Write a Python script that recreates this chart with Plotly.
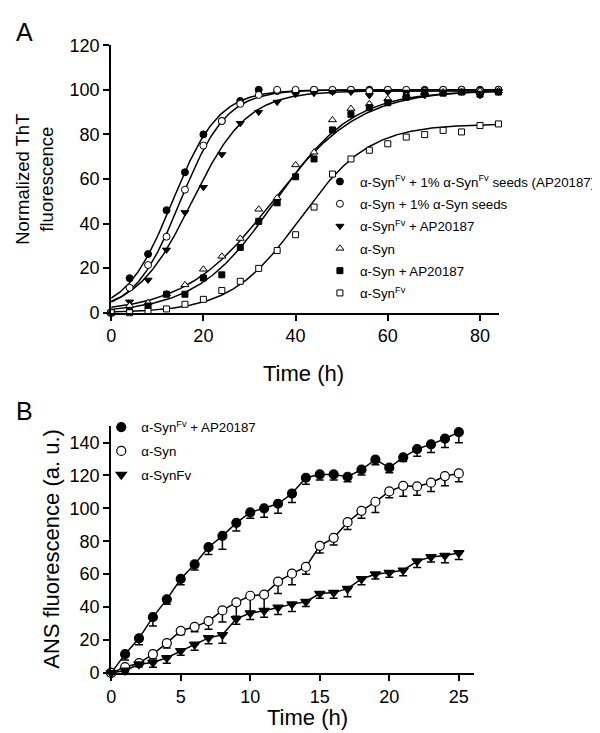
import numpy as np
import plotly.graph_objects as go

# ---------------- Panel A: ThT kinetics ----------------
time_a = [0, 4, 8, 12, 16, 20, 24, 28, 32, 36, 40, 44, 48, 52, 56, 60, 64, 68, 72, 76, 80, 84]
syn_fv_seeds_ap = [0, 15.5, 26.3, 46, 63, 80, 86, 95, 100, 99.5, 99.5, 100, 99.5, 100, 100, 100, 99.5, 100, 100, 100, 100, 100]
syn_seeds = [0, 11.2, 21.4, 34.1, 55.2, 75, 86, 93.7, 97.7, 100, 100, 100, 100, 100, 99.5, 100, 100, 99.5, 100, 100, 99.5, 100]
syn_fv_ap = [0, 4.9, 14.7, 28.2, 45, 56.3, 71, 85, 90, 94.5, 98, 98.5, 99, 99, 97.5, 99, 99, 97.5, 99, 99, 97.5, 99]
syn_wt = [0, 3.2, 4.5, 8.5, 12.5, 19.5, 25.3, 33.3, 46.4, 51.5, 66.3, 72, 86.5, 91.6, 93.7, 96, 97.5, 98.5, 99, 99, 99.5, 99.5]
syn_ap = [0, 0.5, 3.0, 8.3, 8.3, 15.6, 17, 29.3, 41, 49.3, 61, 69, 82, 89, 92, 94.2, 96.7, 99, 98.5, 99, 98, 99]
syn_fv = [0, 0, 0.6, 1.7, 3.8, 6, 10, 14.1, 19.9, 27.9, 35, 47.4, 62.2, 69, 72.9, 75.8, 78.8, 79.9, 81.8, 81.1, 84, 84.7]

labels_a = [
    "α-Syn<sup>Fv</sup> + 1% α-Syn<sup>Fv</sup> seeds (AP20187)",
    "α-Syn + 1% α-Syn seeds",
    "α-Syn<sup>Fv</sup> + AP20187",
    "α-Syn",
    "α-Syn + AP20187",
    "α-Syn<sup>Fv</sup>",
]
# sigmoidal fit parameters (plateau, midpoint, slope factor)
fit_top = [100, 100, 99.5, 100, 99.5, 84.7]
fit_t50 = [13.3, 15, 17.5, 35, 35.5, 41]
fit_k = [5, 5, 6, 9.5, 8.5, 7.5]

# ---------------- Panel B: ANS kinetics ----------------
time_b = list(range(26))
ans_fv_ap = [0, 11.4, 21, 33.9, 44.7, 57.1, 66, 76.4, 83.3, 91.2, 97.5, 100, 102.8, 109, 118.6, 120.6, 120.6, 119.2, 123.5, 129.6, 124.7, 131, 136, 138.9, 142.3, 146.3]
ans_fv_ap_err = [0, 3.6, 3.9, 5.4, 3, 3.6, 3.4, 4.5, 8.1, 4.9, 3.5, 5.4, 5.8, 5.5, 4, 3.4, 3.4, 3, 3.3, 3.1, 3, 2.6, 4.4, 5, 5.3, 6.4]
ans_wt = [0, 3.5, 6, 11.4, 18.1, 25.6, 28, 31.5, 38, 42.9, 46.9, 47.6, 55.5, 60.3, 64.4, 77.2, 82.1, 91.6, 98.5, 104, 110.3, 113.7, 113.3, 115.6, 119.6, 121.2]
ans_wt_err = [0, 1.5, 2, 3, 3, 2.4, 3, 5, 7, 8.4, 10, 10, 7.3, 6.8, 4.4, 4.3, 4.3, 4.5, 4.5, 6.5, 3.9, 6.4, 5.4, 5.3, 5.9, 5]
ans_fv = [0, 1.5, 5.3, 6.3, 9.2, 13.4, 17.3, 21.3, 23.2, 32.9, 36.4, 37.8, 39.8, 41.8, 43.3, 48.2, 48.8, 51.2, 57.1, 60, 61, 62.4, 67.9, 70.5, 71.3, 72.9]
ans_fv_err = [0, 1, 1.5, 2.8, 3.3, 2.6, 3.5, 3.6, 5.1, 3.4, 3.9, 3.9, 4.3, 4.5, 2.9, 2.9, 3.5, 4.9, 3.6, 2.9, 2.9, 3.3, 3.9, 3.1, 4.3, 4]
labels_b = ["α-Syn<sup>Fv</sup> + AP20187", "α-Syn", "α-SynFv"]

FONT = "Liberation Sans, Arial, sans-serif"
W, H = 600, 733


def fx(px):
    return px / W


def fy(py):
    return 1 - py / H


fig = go.Figure()

series_a = [syn_fv_seeds_ap, syn_seeds, syn_fv_ap, syn_wt, syn_ap, syn_fv]
symbols_a = ["circle", "circle", "triangle-down", "triangle-up", "square", "square"]
fills_a = ["black", "white", "black", "white", "black", "white"]
sizes_a = [7, 7, 7, 7, 6, 6]

t_fit = np.linspace(0, 84, 400)
for i in range(6):
    y_fit = fit_top[i] / (1 + np.exp((fit_t50[i] - t_fit) / fit_k[i]))
    fig.add_trace(go.Scatter(x=t_fit, y=y_fit, mode="lines", line=dict(color="black", width=1.5),
                             showlegend=False, hoverinfo="skip", xaxis="x", yaxis="y"))
for i in range(6):
    fig.add_trace(go.Scatter(
        x=time_a, y=series_a[i], mode="markers", name=labels_a[i], legendgroup="a%d" % i,
        marker=dict(symbol=symbols_a[i], color=fills_a[i], size=sizes_a[i],
                    line=dict(color="black", width=1)),
        cliponaxis=False, xaxis="x", yaxis="y", legend="legend"))

series_b = [ans_fv_ap, ans_wt, ans_fv]
errs_b = [ans_fv_ap_err, ans_wt_err, ans_fv_err]
symbols_b = ["circle", "circle", "triangle-down"]
fills_b = ["black", "white", "black"]
for i in range(3):
    fig.add_trace(go.Scatter(x=time_b, y=series_b[i], mode="lines", line=dict(color="black", width=1.5),
                             showlegend=False, hoverinfo="skip", xaxis="x2", yaxis="y2"))
for i in range(3):
    fig.add_trace(go.Scatter(
        x=time_b, y=series_b[i], mode="markers", name=labels_b[i], legendgroup="b%d" % i,
        marker=dict(symbol=symbols_b[i], color=fills_b[i], size=9, line=dict(color="black", width=1.2)),
        error_y=dict(type="data", symmetric=False, array=[0] * len(time_b), arrayminus=errs_b[i],
                     color="black", thickness=1.5, width=4),
        cliponaxis=False, xaxis="x2", yaxis="y2", legend="legend2"))

axis_common = dict(showline=True, linewidth=2, linecolor="black", ticks="outside", ticklen=6,
                   tickwidth=2, tickcolor="black", showgrid=False, zeroline=False,
                   tickfont=dict(family=FONT, size=18, color="black"))

fig.update_layout(
    width=W, height=H, margin=dict(l=0, r=0, t=0, b=0),
    paper_bgcolor="white", plot_bgcolor="white",
    font=dict(family=FONT, color="black"),
    xaxis=dict(domain=[fx(99), fx(490)], range=[0, 84.1], tickvals=[0, 20, 40, 60, 80], anchor="y", **axis_common),
    yaxis=dict(domain=[fy(303), fy(28)], range=[0, 120], tickvals=[0, 20, 40, 60, 80, 100, 120], anchor="x", **axis_common),
    xaxis2=dict(domain=[fx(99), fx(465)], range=[0, 26.1], tickvals=[0, 5, 10, 15, 20, 25], anchor="y2", **axis_common),
    yaxis2=dict(domain=[fy(673.3), fy(419.5)], range=[0, 150], tickvals=[0, 20, 40, 60, 80, 100, 120, 140], anchor="x2", **axis_common),
    legend=dict(x=fx(309.5), y=fy(152.5), xanchor="left", yanchor="top", bgcolor="rgba(0,0,0,0)",
                font=dict(family=FONT, size=13.3, color="black"), itemwidth=30, tracegroupgap=2),
    legend2=dict(x=fx(89), y=fy(405), xanchor="left", yanchor="top", bgcolor="rgba(0,0,0,0)",
                 font=dict(family=FONT, size=13.3, color="black"), itemwidth=30, tracegroupgap=3.5),
    showlegend=True,
)

annotations = [
    dict(text="A", x=fx(12), y=fy(14), font=dict(family=FONT, size=25)),
    dict(text="B", x=fx(12), y=fy(404), font=dict(family=FONT, size=25)),
    dict(text="Normalized ThT<br>fluorescence", x=fx(22), y=fy(165.5), textangle=-90,
         font=dict(family=FONT, size=18.5)),
    dict(text="Time (h)", x=fx(293), y=fy(365), font=dict(family=FONT, size=22)),
    dict(text="ANS fluorescence (a. u.)", x=fx(38), y=fy(546), textangle=-90,
         font=dict(family=FONT, size=22)),
    dict(text="Time (h)", x=fx(297), y=fy(719), font=dict(family=FONT, size=22)),
]
for a in annotations:
    a.update(xref="paper", yref="paper", xanchor="center", yanchor="middle", showarrow=False)
    a["font"]["color"] = "black"
fig.update_layout(annotations=annotations)

fig.write_html("out.html")
